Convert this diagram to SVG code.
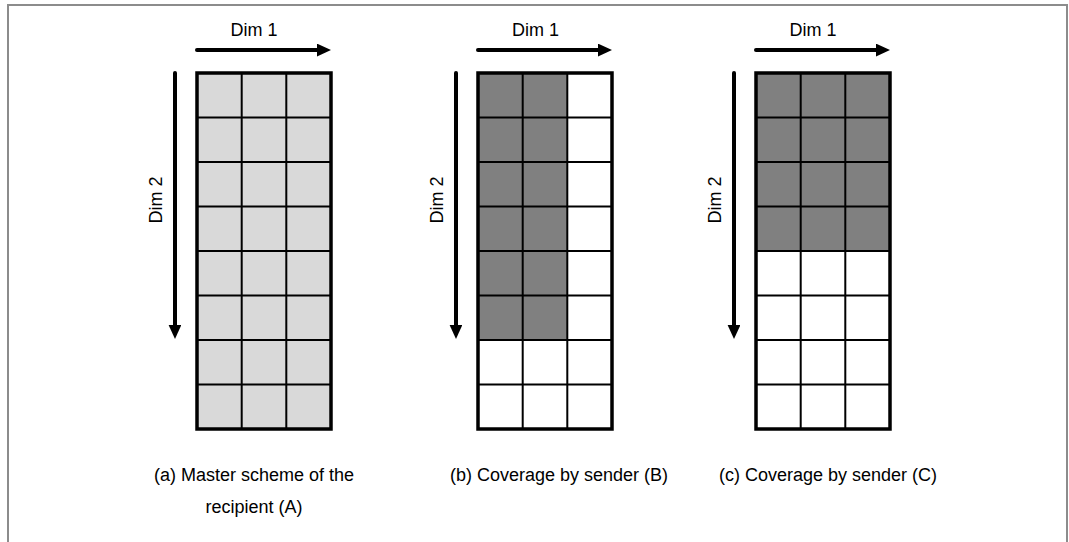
<svg xmlns="http://www.w3.org/2000/svg" width="1069" height="542" viewBox="0 0 1069 542">
  <defs>
    <marker id="head" markerWidth="4" markerHeight="4" refX="1.0" refY="1.6" orient="auto" markerUnits="strokeWidth">
      <path d="M0,0 L3.5,1.6 L0,3.2 Z" fill="#000"/>
    </marker>
    <style>
      .frame { fill: none; stroke: #8c8c8c; stroke-width: 2; }
      .lbl { font-family: "Liberation Sans", Arial, sans-serif; font-size: 18px; fill: #000; text-anchor: middle; }
      .cap { font-family: "Liberation Sans", Arial, sans-serif; font-size: 18px; fill: #000; text-anchor: middle; }
      .axis { stroke: #000; stroke-width: 4; stroke-linecap: round; fill: none; marker-end: url(#head); }
      .light { fill: #d9d9d9; }
      .dark { fill: #808080; }
      .blank { fill: #ffffff; }
      .inner { stroke: #000; stroke-width: 2; fill: none; }
      .outer { stroke: #000; stroke-width: 3.5; fill: none; }
    </style>
  </defs>

  <rect width="1069" height="542" fill="#fff"/>
  <!-- surrounding frame (open at the bottom) -->
  <path class="frame" d="M8,560 L8,5 L1067,5 L1067,560"/>

  <!-- panel (a): master scheme, all cells light grey -->
  <g id="panel-a">
    <rect class="light" x="197" y="73" width="134" height="356"/>
    <path class="inner" d="M241.7,73V429M286.3,73V429M197,117.5H331M197,162H331M197,206.5H331M197,251H331M197,295.5H331M197,340H331M197,384.5H331"/>
    <rect class="outer" x="197" y="73" width="134" height="356"/>
  </g>

  <!-- panel (b): two columns covered for six rows -->
  <g id="panel-b">
    <rect class="blank" x="478" y="73" width="134" height="356"/>
    <rect class="dark" x="478" y="73" width="89.3" height="267"/>
    <path class="inner" d="M522.7,73V429M567.3,73V429M478,117.5H612M478,162H612M478,206.5H612M478,251H612M478,295.5H612M478,340H612M478,384.5H612"/>
    <rect class="outer" x="478" y="73" width="134" height="356"/>
  </g>

  <!-- panel (c): all columns covered for four rows -->
  <g id="panel-c">
    <rect class="blank" x="756" y="73" width="134" height="356"/>
    <rect class="dark" x="756" y="73" width="134" height="178"/>
    <path class="inner" d="M800.7,73V429M845.3,73V429M756,117.5H890M756,162H890M756,206.5H890M756,251H890M756,295.5H890M756,340H890M756,384.5H890"/>
    <rect class="outer" x="756" y="73" width="134" height="356"/>
  </g>

  <!-- dimension arrows -->
  <g id="connectors">
    <line class="axis" x1="197" y1="50" x2="321" y2="50"/>
    <line class="axis" x1="175" y1="73" x2="175" y2="329"/>
    <line class="axis" x1="478" y1="50" x2="602" y2="50"/>
    <line class="axis" x1="456" y1="73" x2="456" y2="329"/>
    <line class="axis" x1="756" y1="50" x2="880" y2="50"/>
    <line class="axis" x1="734" y1="73" x2="734" y2="329"/>
  </g>

  <!-- axis labels -->
  <g id="labels">
    <text class="lbl" x="254" y="36">Dim 1</text>
    <text class="lbl" x="535.5" y="36">Dim 1</text>
    <text class="lbl" x="813" y="36">Dim 1</text>
    <text class="lbl" transform="translate(162,200) rotate(-90)">Dim 2</text>
    <text class="lbl" transform="translate(443,200) rotate(-90)">Dim 2</text>
    <text class="lbl" transform="translate(721,200) rotate(-90)">Dim 2</text>
  </g>

  <!-- captions -->
  <g id="captions">
    <text class="cap" x="254" y="481">(a) Master scheme of the</text>
    <text class="cap" x="254" y="513">recipient (A)</text>
    <text class="cap" x="559" y="481">(b) Coverage by sender (B)</text>
    <text class="cap" x="828" y="481">(c) Coverage by sender (C)</text>
  </g>
</svg>
